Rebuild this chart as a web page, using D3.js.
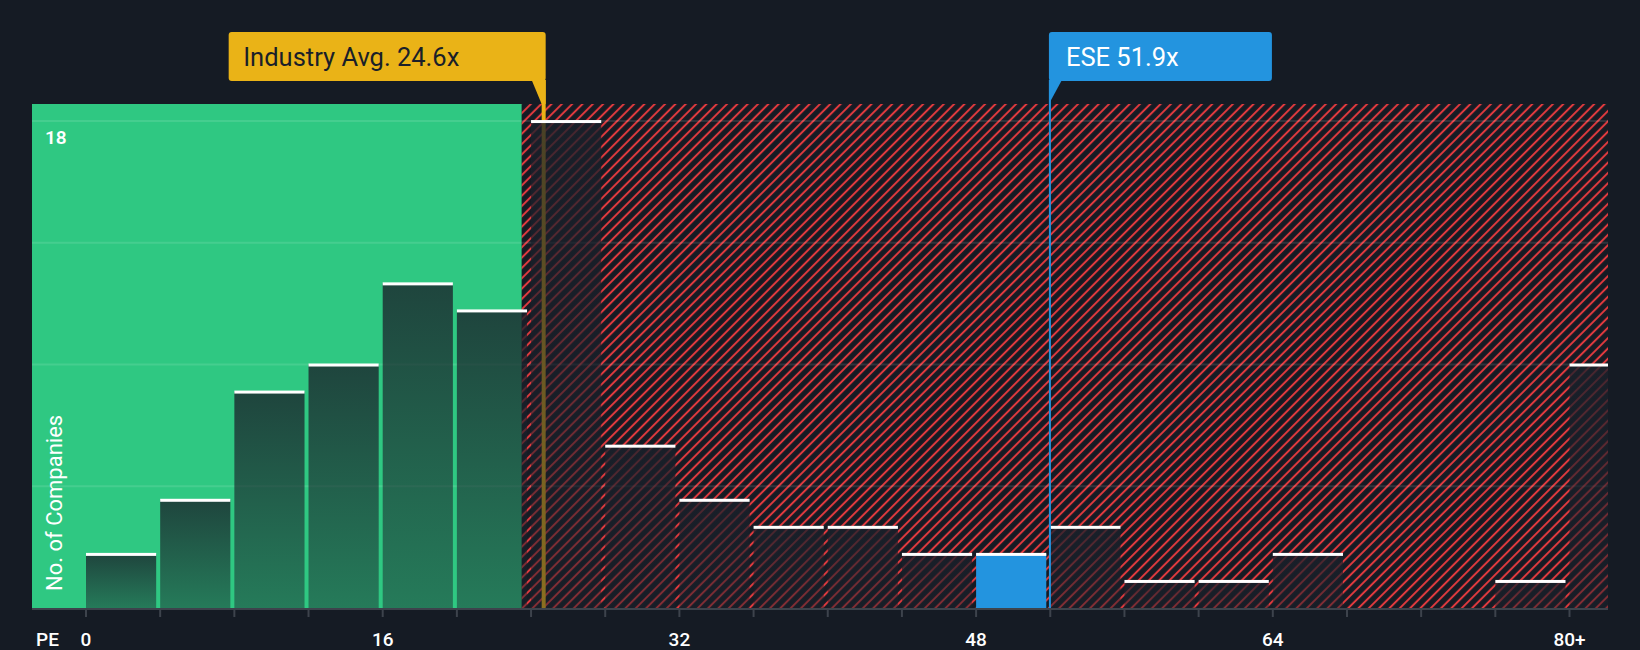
<!DOCTYPE html>
<html><head><meta charset="utf-8">
<script src="https://cdn.jsdelivr.net/npm/d3@7"></script>
<style>
html,body{margin:0;padding:0;background:#151b24;}
svg{display:block;font-family:Roboto,"Open Sans",sans-serif;}
</style>
</head><body>
<svg id="c" width="1640" height="650"></svg>
<script>
// ---- data ----
const binStarts = [0,4,8,12,16,20,24,28,32,36,40,44,48,52,56,60,64,68,72,76,80];
const counts    = [2,4,8,9,12,11,18,6,4,3,3,2,2,3,1,1,2,0,0,1,9];
const tickValues = [0,16,32,48,64,80];
const tickLabels = ["0","16","32","48","64","80+"];
const gridValues = [4.5,9,13.5,18];
const yLabelValues = [18];
const industryAvg = 24.6;
const industryLabel = "Industry Avg. 24.6x";
const companyPE = 51.9;
const companyLabel = "ESE 51.9x";
const fairLimit = 23.5;
const binSize = 4;

// ---- layout ----
const W = 1640, H = 650;
const plotL = 32, plotR = 1608, plotT = 104, plotB = 608;
const svg = d3.select("#c");
const x = d3.scaleLinear().domain([0, 80]).range([86, 1569.5]);
const y = d3.scaleLinear().domain([0, 18.63]).range([plotB, plotT]);

svg.append("rect").attr("width", W).attr("height", H).attr("fill", "#151b24");

const defs = svg.append("defs");
const pat = defs.append("pattern").attr("id", "hatch").attr("patternUnits", "userSpaceOnUse")
  .attr("width", 7.3).attr("height", 7.3).attr("patternTransform", "rotate(45)");
pat.append("rect").attr("width", 7.3).attr("height", 7.3).attr("fill", "#151b24");
pat.append("line").attr("x1", 3.65).attr("x2", 3.65).attr("y1", 0).attr("y2", 7.3)
  .attr("stroke", "#e03a3e").attr("stroke-width", 2);

const grad = defs.append("linearGradient").attr("id", "barGrad")
  .attr("x1", 0).attr("y1", 0).attr("x2", 0).attr("y2", 1);
grad.append("stop").attr("offset", 0).attr("stop-color", "#1a202a").attr("stop-opacity", 0.78);
grad.append("stop").attr("offset", 1).attr("stop-color", "#1a202a").attr("stop-opacity", 0.46);

defs.append("clipPath").attr("id", "plotClip").append("rect")
  .attr("x", plotL).attr("y", plotT - 30).attr("width", plotR - plotL).attr("height", plotB - plotT + 30);

// backgrounds
const xFair = x(fairLimit);
svg.append("rect").attr("x", plotL).attr("y", plotT).attr("width", xFair - plotL).attr("height", plotB - plotT)
  .attr("fill", "#2fc882");
svg.append("rect").attr("x", xFair).attr("y", plotT).attr("width", plotR - xFair).attr("height", plotB - plotT)
  .attr("fill", "url(#hatch)");

// gridlines
svg.append("g").selectAll("line").data(gridValues).join("line")
  .attr("x1", plotL).attr("x2", plotR).attr("y1", d => y(d)).attr("y2", d => y(d))
  .attr("stroke", "#ffffff").attr("stroke-opacity", 0.11).attr("stroke-width", 2);

// industry avg line (under bars)
const xInd = x(industryAvg) + 1.5;
svg.append("line").attr("x1", xInd).attr("x2", xInd).attr("y1", 80).attr("y2", plotB)
  .attr("stroke", "#eab317").attr("stroke-width", 4);

// bars
const bw = x(binSize) - x(0) - 4;
const barsG = svg.append("g").attr("clip-path", "url(#plotClip)");
const isCompanyBin = d => companyPE >= d && companyPE < d + binSize;
const data = binStarts.map((b, i) => ({b, v: counts[i]})).filter(d => d.v > 0);
barsG.selectAll("rect.bar").data(data).join("rect").attr("class", "bar")
  .attr("x", d => x(d.b)).attr("y", d => y(d.v)).attr("width", bw)
  .attr("height", d => plotB - y(d.v))
  .attr("fill", d => isCompanyBin(d.b) ? "#2394df" : "url(#barGrad)");
barsG.selectAll("rect.cap").data(data).join("rect").attr("class", "cap")
  .attr("x", d => x(d.b)).attr("y", d => y(d.v) - 1).attr("width", bw).attr("height", 3)
  .attr("fill", "#ffffff");

// company line
const xCo = x(companyPE) + 1.5;
svg.append("line").attr("x1", xCo).attr("x2", xCo).attr("y1", 80).attr("y2", plotB)
  .attr("stroke", "#2394df").attr("stroke-width", 2);

// axis
const axisG = svg.append("g").attr("transform", `translate(0,${plotB + 1})`);
axisG.append("line").attr("x1", plotL).attr("x2", plotR).attr("y1", 0).attr("y2", 0)
  .attr("stroke", "#3d434c").attr("stroke-width", 2);
axisG.selectAll("line.tick").data(binStarts).join("line").attr("class", "tick")
  .attr("x1", d => x(d)).attr("x2", d => x(d)).attr("y1", 1).attr("y2", 8)
  .attr("stroke", "#3d434c").attr("stroke-width", 2);
svg.append("g").selectAll("text").data(tickValues).join("text")
  .attr("x", d => x(d)).attr("y", 645.5).attr("text-anchor", "middle")
  .attr("fill", "#ffffff").attr("font-size", 19).attr("font-weight", 500)
  .text((d, i) => tickLabels[i]);
svg.append("text").attr("x", 36).attr("y", 645.5).attr("fill", "#ffffff")
  .attr("font-size", 19).attr("font-weight", 500).text("PE");

// y labels
svg.append("g").selectAll("text").data(yLabelValues).join("text")
  .attr("x", 45).attr("y", d => y(d) + 23).attr("fill", "#ffffff")
  .attr("font-size", 19).attr("font-weight", 600).text(d => d);
svg.append("text").attr("transform", "translate(62,591) rotate(-90)")
  .attr("fill", "#ffffff").attr("font-size", 22).text("No. of Companies");

// callouts
function callout(lineX, lineW, label, bg, fg, side, boxW) {
  const g = svg.append("g");
  const top = 32, bot = 81;
  let bx;
  if (side === "left") bx = lineX + lineW / 2 - boxW; else bx = lineX - lineW / 2;
  g.append("rect").attr("x", bx).attr("y", top).attr("width", boxW).attr("height", bot - top)
    .attr("rx", 3).attr("fill", bg);
  if (side === "left") {
    const r = lineX + lineW / 2;
    g.append("path").attr("d", `M${r - 14},${bot - 1} L${r},${bot - 1} L${r},${plotT} L${r - lineW},${plotT} Z`).attr("fill", bg);
  } else {
    const l = lineX - lineW / 2;
    g.append("path").attr("d", `M${l},${bot - 1} L${l + 13},${bot - 1} L${l},${plotT} Z`).attr("fill", bg);
  }
  g.append("text").attr("x", bx + (side === "left" ? 14.5 : 17)).attr("y", 65.5)
    .attr("fill", fg).attr("font-size", 25.5).text(label);
}
callout(xInd, 4, industryLabel, "#eab317", "#1a1f29", "left", 317);
callout(xCo, 2, companyLabel, "#2394df", "#ffffff", "right", 223);
</script>
</body></html>
